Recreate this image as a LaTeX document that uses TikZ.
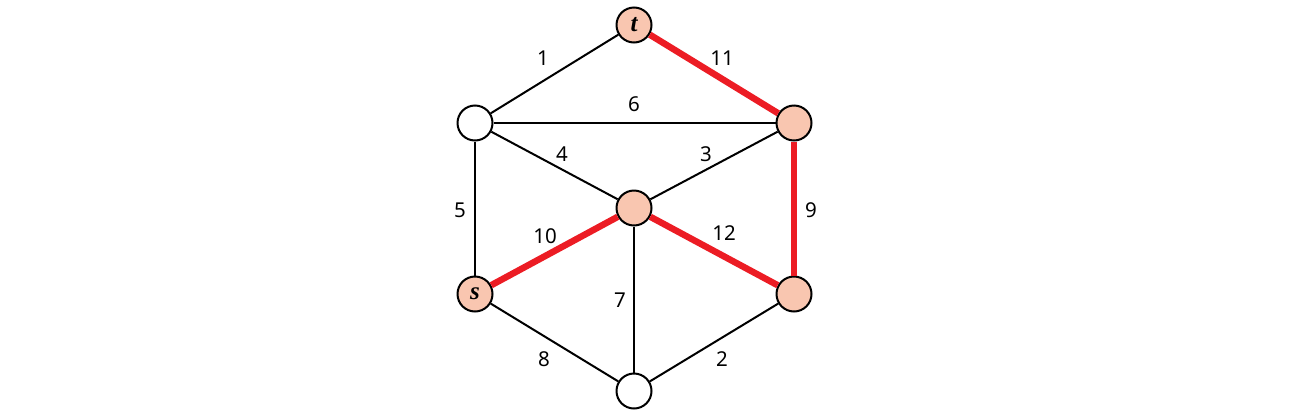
\documentclass[tikz,border=0pt]{standalone}
\usepackage{fontspec}
\setmainfont{Noto Sans}
\newfontfamily\vfont{Liberation Serif}
\begin{document}
\begin{tikzpicture}[x=1pt,y=-1pt,
  vtx/.style={circle,draw=black,line width=2pt,minimum size=35pt,inner sep=0pt,fill=white},
  hot/.style={vtx,fill=peach},
  edge/.style={line width=2pt,black},
  redge/.style={line width=6.5pt,redline},
  lab/.style={font=\fontsize{20.5}{24}\selectfont,inner sep=0pt},
  vlab/.style={font=\vfont\bfseries\itshape\fontsize{25}{26}\selectfont}
]
\definecolor{peach}{HTML}{F9C6B0}
\definecolor{redline}{HTML}{EC1C24}
\useasboundingbox (0,0) rectangle (1301,413);
\node[hot,vlab] (t) at (634,25) {t};
\node[vtx] (a) at (475,123) {};
\node[hot] (b) at (794,123) {};
\node[hot] (c) at (634,208) {};
\node[hot,vlab] (s) at (475,294) {s};
\node[hot] (d) at (794,294) {};
\node[vtx] (e) at (634,391) {};
\draw[edge] (a) -- (t);
\draw[edge] (a) -- (b);
\draw[edge] (a) -- (c);
\draw[edge] (b) -- (c);
\draw[edge] (a) -- (s);
\draw[edge] (c) -- (e);
\draw[edge] (s) -- (e);
\draw[edge] (d) -- (e);
\draw[redge] (t) -- (b);
\draw[redge] (b) -- (d);
\draw[redge] (s) -- (c);
\draw[redge] (c) -- (d);
\node[lab] (l1) at (543,58) {1};
\node[lab] (l11) at (722,58) {11};
\node[lab] (l6) at (634,104) {6};
\node[lab] (l4) at (562,154) {4};
\node[lab] (l3) at (706,154) {3};
\node[lab] (l5) at (460,210) {5};
\node[lab] (l9) at (811,210) {9};
\node[lab] (l10) at (545,236) {10};
\node[lab] (l12) at (724,233) {12};
\node[lab] (l7) at (620,300) {7};
\node[lab] (l8) at (544,359) {8};
\node[lab] (l2) at (722,359) {2};
\end{tikzpicture}
\end{document}
